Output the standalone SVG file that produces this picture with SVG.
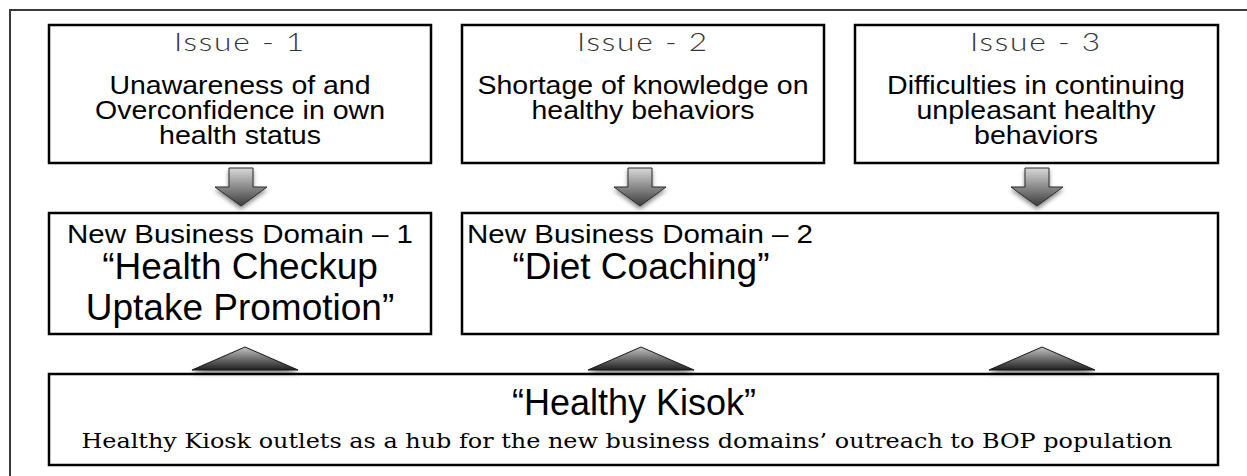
<svg xmlns="http://www.w3.org/2000/svg" width="1247" height="476" viewBox="0 0 1247 476">
  <style>
    .frame { fill: none; stroke: #3a3a3a; stroke-width: 2; }
    .box { fill: #ffffff; stroke: #000000; stroke-width: 2.5; }
    .title { font-family: Lato, "Open Sans", sans-serif; font-weight: 300; font-size: 26px; letter-spacing: 1.5px; fill: #333; text-anchor: middle; }
    .body { font-family: "Liberation Sans", Arial, sans-serif; font-size: 26px; fill: #000; text-anchor: middle; }
    .sub { font-family: "Liberation Sans", Arial, sans-serif; font-size: 26.5px; fill: #000; text-anchor: middle; }
    .big { font-family: "Liberation Sans", Arial, sans-serif; font-size: 37px; fill: #000; text-anchor: middle; }
    .serif { font-family: "DejaVu Serif", "Liberation Serif", serif; font-size: 20.5px; fill: #000; text-anchor: middle; }
    .down { fill: url(#downGrad); stroke: #2a2a2a; stroke-width: 1; filter: url(#shadow); }
    .up { fill: url(#upGrad); stroke: #1a1a1a; stroke-width: 1; filter: url(#shadow); }
  </style>
  <defs>
    <linearGradient id="downGrad" x1="0" y1="0" x2="0" y2="1">
      <stop offset="0" stop-color="#d8d8d8"/>
      <stop offset="1" stop-color="#3c3c3c"/>
    </linearGradient>
    <linearGradient id="upGrad" x1="0" y1="0" x2="0" y2="1">
      <stop offset="0" stop-color="#c4c4c4"/>
      <stop offset="1" stop-color="#1e1e1e"/>
    </linearGradient>
    <filter id="shadow" x="-20%" y="-20%" width="140%" height="160%">
      <feDropShadow dx="0" dy="3" stdDeviation="2" flood-color="#000" flood-opacity="0.45"/>
    </filter>
    <path id="downArrow" class="down" d="M-12,168 H12 V187 H26 L0,206 L-26,187 H-12 Z"/>
    <path id="upTri" class="up" d="M-53,370 L0,347 L53,370 Z"/>
  </defs>

  <rect width="1247" height="476" fill="#ffffff"/>
  <!-- outer frame, running past the right and bottom edges -->
  <rect class="frame" x="10" y="10" width="1260" height="490"/>

  <g id="issue-1">
    <rect class="box" x="49" y="25" width="382" height="138"/>
    <text class="title" x="240" y="51" textLength="132" lengthAdjust="spacingAndGlyphs">Issue - 1</text>
    <text class="body" x="240" y="94" textLength="261" lengthAdjust="spacingAndGlyphs">Unawareness of and</text>
    <text class="body" x="240" y="119" textLength="290" lengthAdjust="spacingAndGlyphs">Overconfidence in own</text>
    <text class="body" x="240" y="144" textLength="162" lengthAdjust="spacingAndGlyphs">health status</text>
  </g>

  <g id="issue-2">
    <rect class="box" x="462" y="25" width="362" height="138"/>
    <text class="title" x="643" y="51" textLength="132" lengthAdjust="spacingAndGlyphs">Issue - 2</text>
    <text class="body" x="643" y="94" textLength="331" lengthAdjust="spacingAndGlyphs">Shortage of knowledge on</text>
    <text class="body" x="643" y="119" textLength="223" lengthAdjust="spacingAndGlyphs">healthy behaviors</text>
  </g>

  <g id="issue-3">
    <rect class="box" x="855" y="25" width="363" height="138"/>
    <text class="title" x="1036" y="51" textLength="132" lengthAdjust="spacingAndGlyphs">Issue - 3</text>
    <text class="body" x="1036" y="94" textLength="298" lengthAdjust="spacingAndGlyphs">Difficulties in continuing</text>
    <text class="body" x="1036" y="119" textLength="239" lengthAdjust="spacingAndGlyphs">unpleasant healthy</text>
    <text class="body" x="1036" y="144" textLength="124" lengthAdjust="spacingAndGlyphs">behaviors</text>
  </g>

  <g id="domain-1">
    <rect class="box" x="49" y="213" width="382" height="121"/>
    <text class="sub" x="240" y="243" textLength="346" lengthAdjust="spacingAndGlyphs">New Business Domain – 1</text>
    <text class="big" x="240" y="279">“Health Checkup</text>
    <text class="big" x="240" y="320">Uptake Promotion”</text>
  </g>

  <g id="domain-2">
    <rect class="box" x="462" y="213" width="756" height="121"/>
    <text class="sub" x="640" y="243" textLength="346" lengthAdjust="spacingAndGlyphs">New Business Domain – 2</text>
    <text class="big" x="641" y="279">“Diet Coaching”</text>
  </g>

  <g id="healthy-kiosk">
    <rect class="box" x="49" y="374" width="1169" height="91"/>
    <text class="big" x="634" y="415" style="font-size:36px">“Healthy Kisok”</text>
    <text class="serif" x="627" y="448" textLength="1091" lengthAdjust="spacingAndGlyphs">Healthy Kiosk outlets as a hub for the new business domains’ outreach to BOP population</text>
  </g>

  <g id="connectors">
    <use href="#downArrow" x="241"/>
    <use href="#downArrow" x="640"/>
    <use href="#downArrow" x="1037"/>
    <use href="#upTri" x="245"/>
    <use href="#upTri" x="641"/>
    <use href="#upTri" x="1042"/>
  </g>
</svg>
